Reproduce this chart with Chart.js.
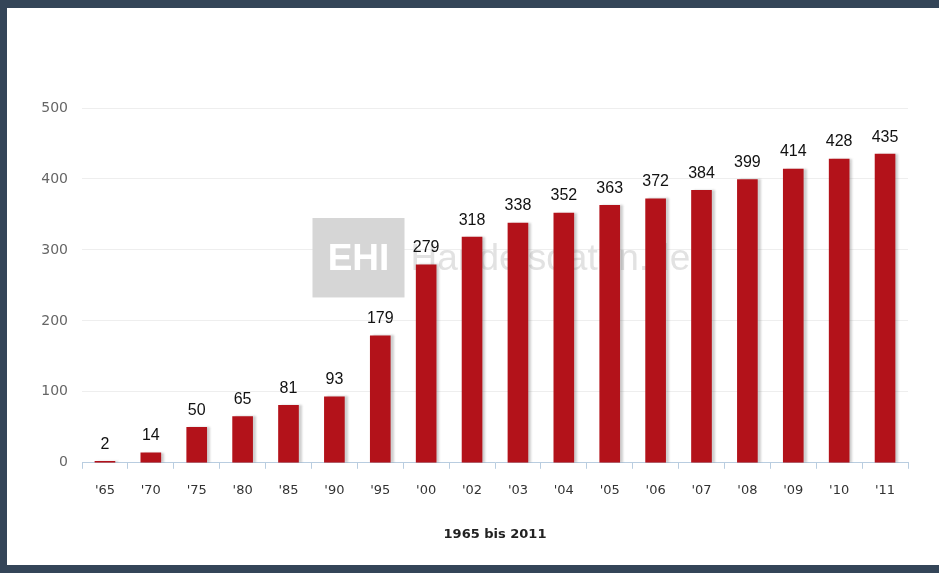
<!DOCTYPE html>
<html>
<head>
<meta charset="utf-8">
<script src="https://cdn.jsdelivr.net/npm/chart.js@4"></script>
<style>
  html, body { margin: 0; padding: 0; }
  body { width: 939px; height: 573px; background: #344558; overflow: hidden; position: relative; }
  #panel { position: absolute; left: 7px; top: 8px; width: 932px; height: 557px; background: #fff; }
  #chart { display: block; }
</style>
</head>
<body>
<div id="panel"><canvas id="chart" width="932" height="557"></canvas></div>
<script>
// Data
const years = ["'65", "'70", "'75", "'80", "'85", "'90", "'95", "'00", "'02", "'03", "'04", "'05", "'06", "'07", "'08", "'09", "'10", "'11"];
const counts = [2, 14, 50, 65, 81, 93, 179, 279, 318, 338, 352, 363, 372, 384, 399, 414, 428, 435];
const axisTitle = "1965 bis 2011";
const watermarkBox = "EHI";
const watermarkText = "Handelsdaten.de";

const font = "'Liberation Sans', Arial, sans-serif";
const wideFont = "'DejaVu Sans', Verdana, sans-serif";

// Value labels above each bar
const valueLabels = {
    id: "valueLabels",
    afterDatasetsDraw(chart) {
        const ctx = chart.ctx;
        const meta = chart.getDatasetMeta(0);
        ctx.save();
        ctx.font = "16px " + font;
        ctx.fillStyle = "#111";
        ctx.textAlign = "center";
        ctx.textBaseline = "bottom";
        meta.data.forEach((bar, i) => {
            ctx.fillText(String(counts[i]), bar.x, bar.y - 9);
        });
        ctx.restore();
    }
};

// Faint watermark behind the bars
const watermark = {
    id: "watermark",
    beforeDatasetsDraw(chart) {
        const ctx = chart.ctx;
        const x = chart.scales.x;
        const y = chart.scales.y;
        const left = x.getPixelForValue(4) + 24;
        const top = y.getPixelForValue(345);
        const bottom = y.getPixelForValue(233);
        const mid = (top + bottom) / 2 + 2;
        ctx.save();
        ctx.fillStyle = "#d6d6d6";
        ctx.fillRect(left, top, 92, bottom - top);
        ctx.font = "bold 37px " + font;
        ctx.fillStyle = "#fff";
        ctx.textAlign = "center";
        ctx.textBaseline = "middle";
        ctx.fillText(watermarkBox, left + 46, mid);
        ctx.font = "37px " + font;
        ctx.fillStyle = "#e2e2e2";
        ctx.textAlign = "left";
        ctx.fillText(watermarkText, left + 98, mid);
        ctx.restore();
    }
};

// Soft shadow on the right edge of bars
const barShadow = {
    id: "barShadow",
    beforeDatasetDraw(chart) {
        const ctx = chart.ctx;
        ctx.save();
        ctx.shadowColor = "rgba(120,120,120,0.35)";
        ctx.shadowOffsetX = 3;
        ctx.shadowOffsetY = 0;
        ctx.shadowBlur = 2;
    },
    afterDatasetDraw(chart) {
        chart.ctx.restore();
    }
};

new Chart(document.getElementById("chart"), {
    type: "bar",
    data: {
        labels: years,
        datasets: [{
            data: counts,
            backgroundColor: "#b3121a",
            barThickness: 20
        }]
    },
    options: {
        responsive: false,
        animation: false,
        layout: { padding: { top: 100, right: 31, bottom: 23, left: 0 } },
        plugins: {
            legend: { display: false },
            tooltip: { enabled: false }
        },
        scales: {
            x: {
                grid: {
                    drawOnChartArea: false,
                    drawTicks: true,
                    tickLength: 6,
                    tickColor: "#b9cde0"
                },
                border: { color: "#b9cde0", width: 1 },
                ticks: {
                    color: "#333",
                    padding: 14,
                    font: { family: wideFont, size: 13 }
                },
                title: {
                    display: true,
                    text: axisTitle,
                    color: "#222",
                    padding: { top: 14, bottom: 0 },
                    font: { family: wideFont, size: 13, weight: "bold" }
                }
            },
            y: {
                min: 0,
                max: 500,
                afterFit(scale) { scale.width = 75; },
                grid: { color: "#eeeeee", drawTicks: false },
                border: { display: false },
                ticks: {
                    stepSize: 100,
                    color: "#666",
                    padding: 14,
                    font: { family: wideFont, size: 14 }
                }
            }
        }
    },
    plugins: [watermark, barShadow, valueLabels]
});
</script>
</body>
</html>
